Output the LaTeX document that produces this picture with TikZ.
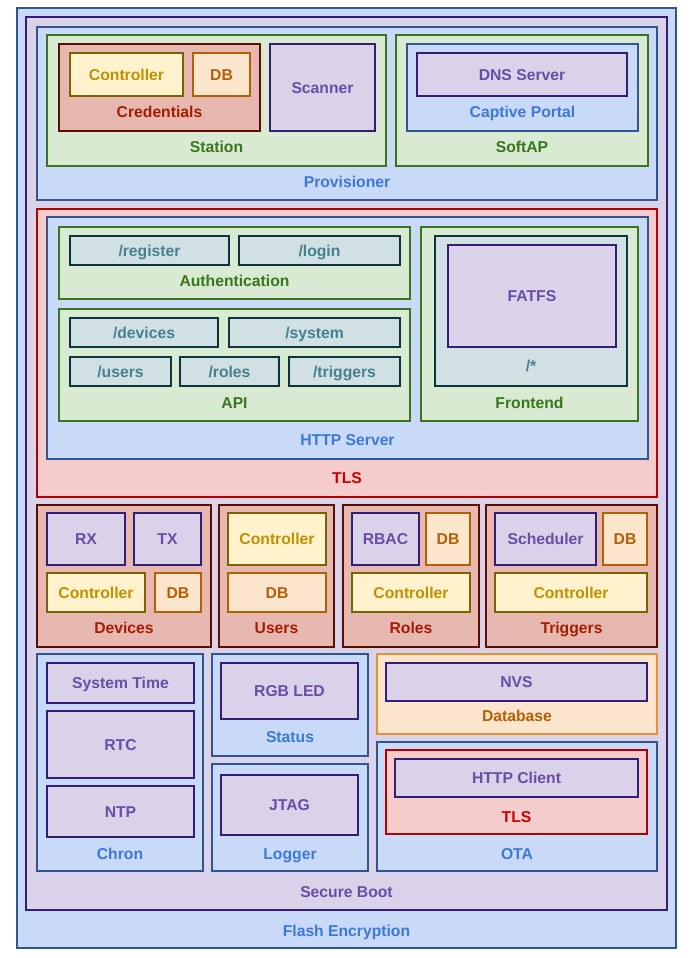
\documentclass[tikz,border=0pt]{standalone}
\usepackage{fontspec}
\setmainfont{Liberation Sans}
\begin{document}
% colour families of the firmware block diagram
\definecolor{bluefill}{HTML}{C9DAF8}\definecolor{bluedraw}{HTML}{33558F}\definecolor{bluetext}{HTML}{3C78D8}
\definecolor{purpfill}{HTML}{D9D2E9}\definecolor{purpdraw}{HTML}{351C75}\definecolor{purptext}{HTML}{674EA7}
\definecolor{grnfill}{HTML}{D9EAD3}\definecolor{grndraw}{HTML}{38761D}\definecolor{grntext}{HTML}{38761D}
\definecolor{redfill}{HTML}{E6B8AF}\definecolor{reddraw}{HTML}{5B0F00}\definecolor{redtext}{HTML}{A61C00}
\definecolor{tlsfill}{HTML}{F4CCCC}\definecolor{tlsdraw}{HTML}{B00000}\definecolor{tlstext}{HTML}{CC0000}
\definecolor{ylwfill}{HTML}{FFF2CC}\definecolor{ylwdraw}{HTML}{7F6000}\definecolor{ylwtext}{HTML}{BF9000}
\definecolor{orgfill}{HTML}{FCE5CD}\definecolor{orgdraw}{HTML}{B45F06}\definecolor{orgtext}{HTML}{B45F06}
\definecolor{dbdraw}{HTML}{E69138}
\definecolor{tealfill}{HTML}{D0E0E3}\definecolor{tealdraw}{HTML}{0C343D}\definecolor{tealtext}{HTML}{45818E}
\tikzset{
  every node/.style={font=\fontsize{15.7}{18}\selectfont\bfseries, inner sep=0pt, outer sep=0pt,
    text height=11.2pt, text depth=0pt, line width=1.6pt},
  famblue/.style={draw=bluedraw, fill=bluefill, text=bluetext},
  fampurp/.style={draw=purpdraw, fill=purpfill, text=purptext},
  famgrn/.style={draw=grndraw, fill=grnfill, text=grntext},
  famred/.style={draw=reddraw, fill=redfill, text=redtext},
  famtls/.style={draw=tlsdraw, fill=tlsfill, text=tlstext},
  famylw/.style={draw=ylwdraw, fill=ylwfill, text=ylwtext},
  famorg/.style={draw=orgdraw, fill=orgfill, text=orgtext},
  famdb/.style={draw=dbdraw, fill=orgfill, text=orgtext},
  famteal/.style={draw=tealdraw, fill=tealfill, text=tealtext},
}
% leaf box: style, name, x1, y1, x2, y2, text
\newcommand\leafbox[7]{%
  \pgfmathsetmacro\bw{#5-#3}\pgfmathsetmacro\bh{#6-#4}%
  \node[#1, rectangle, minimum width=\bw pt, minimum height=\bh pt, anchor=north west] (#2) at (#3,#4) {#7};}
% container box with its caption near the bottom: style, name, x1, y1, x2, y2, caption, caption y
\newcommand\groupbox[8]{%
  \pgfmathsetmacro\bw{#5-#3}\pgfmathsetmacro\bh{#6-#4}\pgfmathsetmacro\cx{(#3+#5)/2}%
  \node[#1, rectangle, minimum width=\bw pt, minimum height=\bh pt, anchor=north west] (#2) at (#3,#4) {};
  \node[#1, draw=none, fill=none] (#2-cap) at (\cx,#8) {#7};}
\begin{tikzpicture}[x=1pt,y=-1pt]
\useasboundingbox (0,0) rectangle (694,958);
\groupbox{famblue}{flash}{17}{8}{676}{948}{Flash Encryption}{931}
\groupbox{fampurp}{secboot}{26}{17}{667}{910}{Secure Boot}{892}
% provisioning
\groupbox{famblue}{prov}{37}{27}{657}{200}{Provisioner}{182}
\groupbox{famgrn}{station}{47}{35}{386}{166}{Station}{147}
\groupbox{famred}{cred}{59}{44}{260}{131}{Credentials}{112}
\leafbox{famylw}{credctl}{70}{53}{183}{96}{Controller}
\leafbox{famorg}{creddb}{193}{53}{250}{96}{DB}
\leafbox{fampurp}{scanner}{270}{44}{375}{131}{Scanner}
\groupbox{famgrn}{softap}{396}{35}{648}{166}{SoftAP}{147}
\groupbox{famblue}{captive}{407}{44}{638}{131}{Captive Portal}{112}
\leafbox{fampurp}{dns}{417}{53}{627}{96}{DNS Server}
% web server
\groupbox{famtls}{tls}{37}{209}{657}{497}{TLS}{478}
\groupbox{famblue}{http}{47}{217}{648}{459}{HTTP Server}{440}
\groupbox{famgrn}{auth}{59}{227}{410}{299}{Authentication}{281}
\leafbox{famteal}{register}{70}{236}{229}{265}{/register}
\leafbox{famteal}{login}{239}{236}{400}{265}{/login}
\groupbox{famgrn}{api}{59}{309}{410}{421}{API}{403}
\leafbox{famteal}{apidev}{70}{318}{218}{347}{/devices}
\leafbox{famteal}{apisys}{229}{318}{400}{347}{/system}
\leafbox{famteal}{apiusr}{70}{357}{171}{386}{/users}
\leafbox{famteal}{apirol}{180}{357}{279}{386}{/roles}
\leafbox{famteal}{apitrg}{289}{357}{400}{386}{/triggers}
\groupbox{famgrn}{frontend}{421}{227}{638}{421}{Frontend}{403}
\groupbox{famteal}{static}{435}{236}{627}{386}{/*}{366}
\leafbox{fampurp}{fatfs}{448}{245}{616}{347}{FATFS}
% resources
\groupbox{famred}{devices}{37}{505}{211}{647}{Devices}{628}
\leafbox{fampurp}{devrx}{47}{513}{125}{565}{RX}
\leafbox{fampurp}{devtx}{134}{513}{201}{565}{TX}
\leafbox{famylw}{devctl}{47}{573}{145}{612}{Controller}
\leafbox{famorg}{devdb}{155}{573}{201}{612}{DB}
\groupbox{famred}{users}{219}{505}{334}{647}{Users}{628}
\leafbox{famylw}{usrctl}{228}{513}{326}{565}{Controller}
\leafbox{famorg}{usrdb}{228}{573}{326}{612}{DB}
\groupbox{famred}{roles}{343}{505}{479}{647}{Roles}{628}
\leafbox{fampurp}{rbac}{352}{513}{419}{565}{RBAC}
\leafbox{famorg}{roldb}{426}{513}{470}{565}{DB}
\leafbox{famylw}{rolctl}{352}{573}{470}{612}{Controller}
\groupbox{famred}{triggers}{486}{505}{657}{647}{Triggers}{628}
\leafbox{fampurp}{sched}{495}{513}{596}{565}{Scheduler}
\leafbox{famorg}{trgdb}{603}{513}{647}{565}{DB}
\leafbox{famylw}{trgctl}{495}{573}{647}{612}{Controller}
% system services
\groupbox{famblue}{chron}{37}{654}{203}{871}{Chron}{854}
\leafbox{fampurp}{systime}{47}{663}{194}{703}{System Time}
\leafbox{fampurp}{rtc}{47}{711}{194}{778}{RTC}
\leafbox{fampurp}{ntp}{47}{786}{194}{837}{NTP}
\groupbox{famblue}{status}{212}{654}{368}{756}{Status}{737}
\leafbox{fampurp}{rgbled}{221}{663}{358}{719}{RGB LED}
\groupbox{famblue}{logger}{212}{764}{368}{871}{Logger}{854}
\leafbox{fampurp}{jtag}{221}{775}{358}{835}{JTAG}
\groupbox{famdb}{database}{377}{654}{657}{734}{Database}{716}
\leafbox{fampurp}{nvs}{386}{663}{647}{701}{NVS}
\groupbox{famblue}{ota}{377}{742}{657}{871}{OTA}{854}
\groupbox{famtls}{otatls}{386}{750}{647}{834}{TLS}{817}
\leafbox{fampurp}{httpclient}{395}{759}{638}{797}{HTTP Client}
\end{tikzpicture}
\end{document}
